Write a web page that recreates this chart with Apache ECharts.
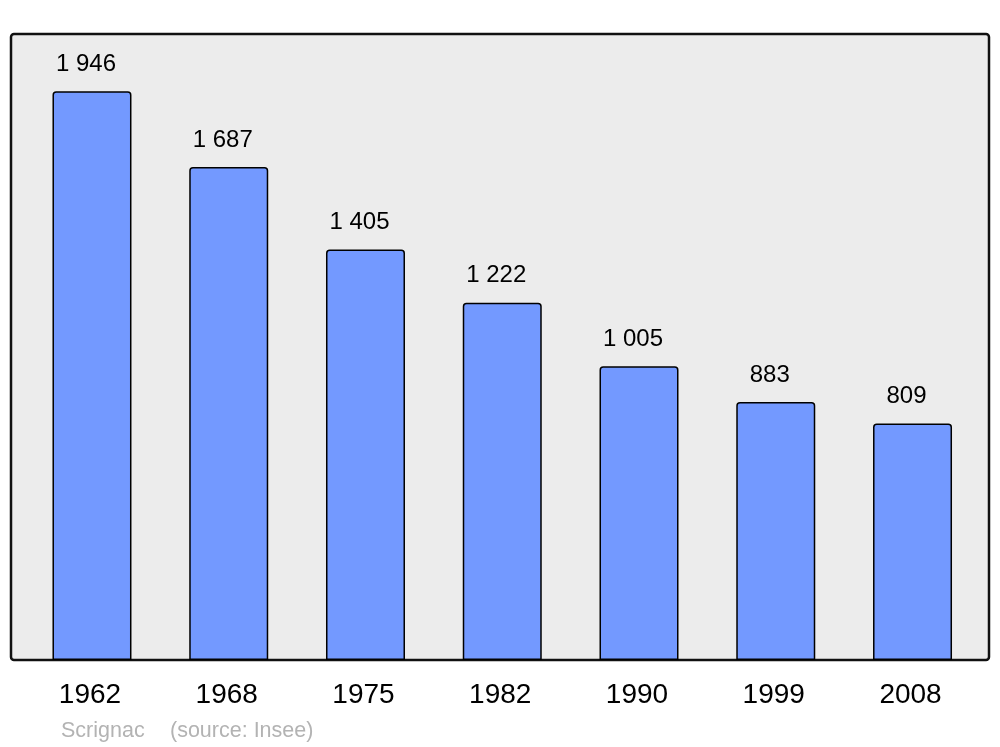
<!DOCTYPE html>
<html><head><meta charset="utf-8">
<script src="https://cdn.jsdelivr.net/npm/echarts@6/dist/echarts.min.js"></script>
<style>html,body{margin:0;padding:0;background:#fff}#c{width:1000px;height:747px}</style>
</head><body><div id="c"></div>
<script>
const years = ['1962','1968','1975','1982','1990','1999','2008'];
const population = [1946,1687,1405,1222,1005,883,809];
const labels = ['1 946','1 687','1 405','1 222','1 005','883','809'];
const footerAuthor = 'Scrignac';
const footerSource = '(source: Insee)';

const chart = echarts.init(document.getElementById('c'), null, {renderer:'canvas'});
chart.setOption({
  animation:false,
  backgroundColor:'#ffffff',
  textStyle:{fontFamily:'Liberation Sans'},
  graphic:[
    {type:'rect', z:-10, shape:{x:11,y:34,width:978,height:626,r:3},
     style:{fill:'#ececec',stroke:'#111',lineWidth:2.5}},
    {type:'text', left:61, top:720, style:{text:footerAuthor, fill:'#b3b3b3', font:'21.5px "Liberation Sans"'}},
    {type:'text', left:170, top:720, style:{text:footerSource, fill:'#b3b3b3', font:'21.5px "Liberation Sans"'}}
  ],
  grid:{left:23.6, width:957.3, top:34, bottom:87, containLabel:false},
  xAxis:{type:'category', data:years,
    axisLine:{show:false}, axisTick:{show:false},
    axisLabel:{color:'#000', fontSize:28, margin:21, padding:[0,4,0,0], fontFamily:'Liberation Sans'}},
  yAxis:{type:'value', min:0, max:2142, show:false, splitLine:{show:false}},
  series:[{type:'bar', data:population, barWidth:79,
    itemStyle:{color:'#7399ff', borderColor:'#000', borderWidth:1.5, borderRadius:[3,3,0,0]},
    label:{show:true, position:'top', distance:15, offset:[-6,0], color:'#000', fontSize:24, fontFamily:'Liberation Sans',
      formatter:p=>labels[p.dataIndex]}
  }]
});
</script></body></html>
